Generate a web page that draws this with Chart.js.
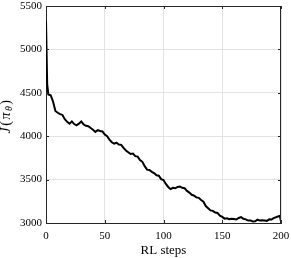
<!DOCTYPE html>
<html>
<head>
<meta charset="utf-8">
<script src="https://cdn.jsdelivr.net/npm/chart.js@4"></script>
<style>
  html, body { margin: 0; padding: 0; background: #fff; }
  #wrap { width: 291px; height: 258px; }
</style>
</head>
<body>
<div id="wrap"><canvas id="myChart"></canvas></div>
<script>
"use strict";
// data
const steps = [0, 1, 2, 4, 6, 8, 10, 12, 14, 16, 18, 20, 22, 24, 26, 28, 30, 32, 34, 36, 38,
  40, 42, 44, 46, 48, 50, 52, 54, 56, 58, 60, 62, 64, 66, 68, 70, 72, 74, 76, 78,
  80, 82, 84, 86, 88, 90, 92, 94, 96, 98, 100, 102, 104, 106, 108, 110, 112, 114, 116, 118,
  120, 122, 124, 126, 128, 130, 132, 134, 136, 138, 140, 142, 144, 146, 148, 150, 152, 154, 156, 158,
  160, 162, 164, 166, 168, 170, 172, 174, 176, 178, 180, 182, 184, 186, 188, 190, 192, 194, 196, 198, 199, 200];
const cost = [5330, 4600, 4480, 4470, 4400, 4290, 4270, 4255, 4245, 4195, 4165, 4145, 4170, 4140, 4125, 4145, 4170, 4135, 4120, 4115, 4095,
  4075, 4050, 4070, 4060, 4055, 4020, 4000, 3960, 3930, 3915, 3925, 3905, 3900, 3865, 3835, 3815, 3795, 3800, 3770, 3765,
  3725, 3705, 3655, 3615, 3610, 3590, 3575, 3550, 3545, 3505, 3495, 3450, 3415, 3390, 3405, 3400, 3415, 3420, 3405, 3400,
  3370, 3350, 3325, 3315, 3295, 3290, 3265, 3245, 3195, 3170, 3145, 3140, 3120, 3115, 3085, 3070, 3050, 3055, 3045, 3050,
  3045, 3040, 3058, 3068, 3048, 3042, 3028, 3030, 3018, 3020, 3038, 3028, 3032, 3030, 3025, 3042, 3040, 3058, 3068, 3078, 3082, 3020];
const xTicks = [0, 50, 100, 150, 200];
const yTicks = [3000, 3500, 4000, 4500, 5000, 5500];

const points = steps.map((s, i) => ({ x: s, y: cost[i] }));
const serif = "'Liberation Serif', 'DejaVu Serif', serif";

// box, inner ticks and the y label (J(pi_theta))
const boxPlugin = {
  id: "box",
  afterDraw(chart) {
    const ctx = chart.ctx;
    const a = chart.chartArea;
    const sx = chart.scales.x, sy = chart.scales.y;
    ctx.save();
    ctx.strokeStyle = "#262626";
    ctx.lineWidth = 1;
    ctx.beginPath();
    ctx.moveTo(a.left, a.top + 0.5);
    ctx.lineTo(a.right, a.top + 0.5);
    ctx.moveTo(a.right - 0.5, a.top);
    ctx.lineTo(a.right - 0.5, a.bottom);
    xTicks.forEach((t) => {
      const px = Math.round(sx.getPixelForValue(t)) + 0.5;
      ctx.moveTo(px, a.top); ctx.lineTo(px, a.top + 3);
      ctx.moveTo(px, a.bottom); ctx.lineTo(px, a.bottom - 3);
    });
    yTicks.forEach((t) => {
      const py = Math.round(sy.getPixelForValue(t)) + 0.5;
      ctx.moveTo(a.left, py); ctx.lineTo(a.left + 3, py);
      ctx.moveTo(a.right, py); ctx.lineTo(a.right - 3, py);
    });
    ctx.stroke();

    // y axis label
    ctx.translate(6, 116);
    ctx.rotate(-Math.PI / 2);
    ctx.fillStyle = "#000";
    ctx.textBaseline = "middle";
    const big = "italic 14px " + serif, up = "14px " + serif, sub = "italic 10px " + serif;
    const parts = [["J", big, 0], ["(", up, 0], ["\u03c0", big, 0], ["\u03b8", sub, 3], [")", up, 0]];
    let w = 0;
    parts.forEach((p) => { ctx.font = p[1]; w += ctx.measureText(p[0]).width + 1.5; });
    let x = -w / 2;
    parts.forEach((p) => {
      ctx.font = p[1];
      ctx.fillText(p[0], x, p[2]);
      x += ctx.measureText(p[0]).width + 1.5;
    });
    ctx.restore();
  },
};

const myChart = new Chart(document.getElementById("myChart"), {
  type: "line",
  data: {
    datasets: [
      {
        data: points,
        borderColor: "#000",
        borderWidth: 2,
        pointRadius: 0,
        fill: false,
        tension: 0,
      },
    ],
  },
  options: {
    responsive: true,
    maintainAspectRatio: false,
    animation: false,
    devicePixelRatio: 1,
    layout: { padding: { left: 0, right: 10, top: 6, bottom: 0 } },
    plugins: {
      legend: { display: false },
      tooltip: { enabled: false },
    },
    scales: {
      x: {
        type: "linear",
        min: 0,
        max: 200,
        afterBuildTicks: (s) => { s.ticks = xTicks.map((v) => ({ value: v })); },
        afterFit: (s) => { s.height = 35; s.paddingLeft = 0; s.paddingRight = 0; },
        grid: { color: "#e3e3e3", drawTicks: false },
        border: { color: "#262626", width: 1 },
        ticks: { color: "#000", padding: 7, maxRotation: 0, font: { family: serif, size: 11 }, callback: (v) => String(v) },
        title: { display: true, text: "RL steps", color: "#000", padding: { top: 0, bottom: 0 }, font: { family: serif, size: 13 } },
      },
      y: {
        min: 3000,
        max: 5500,
        afterBuildTicks: (s) => { s.ticks = yTicks.map((v) => ({ value: v })); },
        afterFit: (s) => { s.width = 46; s.paddingTop = 0; s.paddingBottom = 0; },
        grid: { color: "#e3e3e3", drawTicks: false },
        border: { color: "#262626", width: 1 },
        ticks: { color: "#000", padding: 4, font: { family: serif, size: 11 }, callback: (v) => String(v) },
      },
    },
  },
  plugins: [boxPlugin],
});
</script>
</body>
</html>
